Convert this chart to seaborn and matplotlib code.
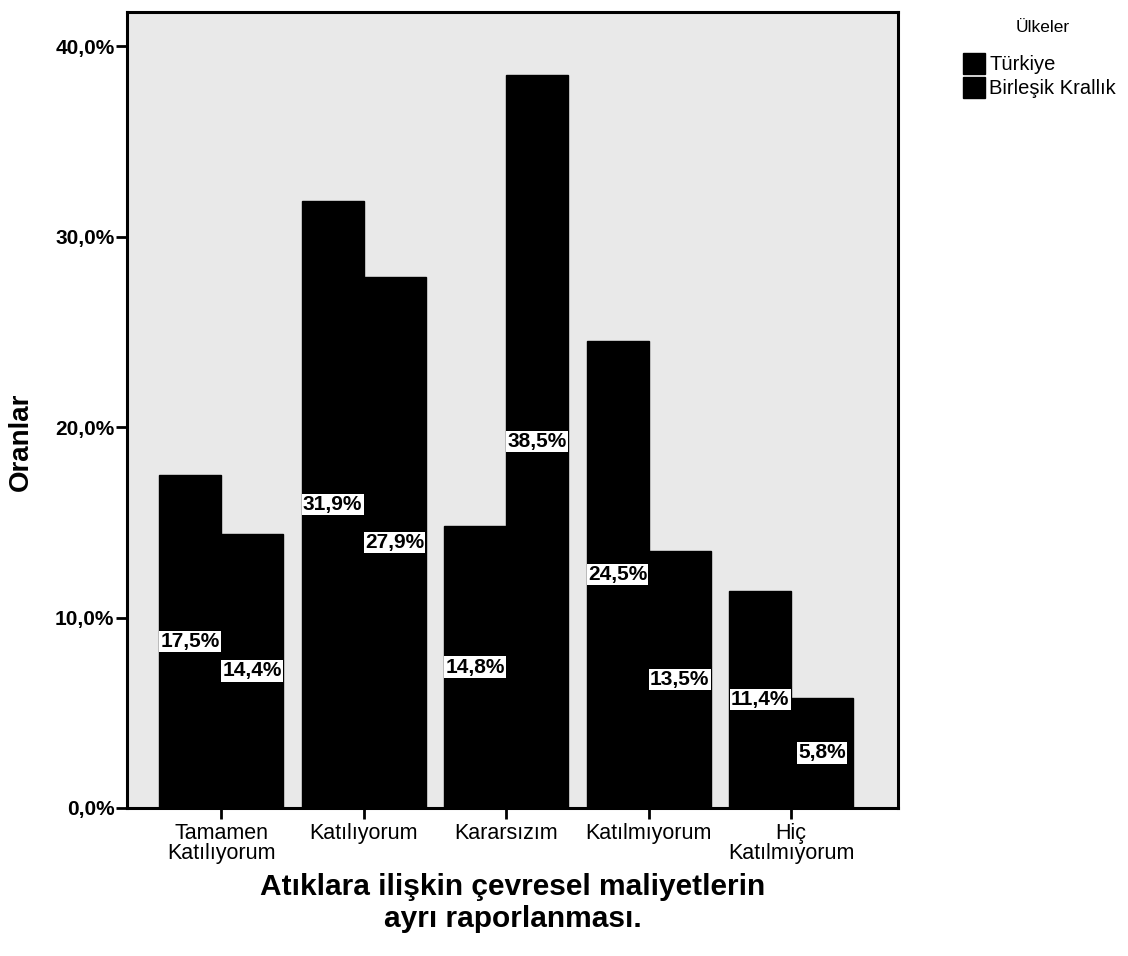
import matplotlib
matplotlib.use("Agg")
import matplotlib.pyplot as plt
import seaborn as sns
import pandas as pd
from matplotlib.ticker import FuncFormatter

categories = ["Tamamen\nKatılıyorum", "Katılıyorum", "Kararsızım", "Katılmıyorum", "Hiç\nKatılmıyorum"]
series_names = ["Türkiye", "Birleşik Krallık"]
turkiye = [17.5, 31.9, 14.8, 24.5, 11.4]
uk = [14.4, 27.9, 38.5, 13.5, 5.8]
yticks = [0, 10, 20, 30, 40]

df = pd.DataFrame({
    "cat": categories * 2,
    "val": turkiye + uk,
    "ulke": [series_names[0]] * len(categories) + [series_names[1]] * len(categories),
})

sns.set_style("white")
plt.rcParams["font.family"] = ["Liberation Sans", "DejaVu Sans"]
plt.rcParams["text.color"] = "black"
plt.rcParams["axes.labelcolor"] = "black"
plt.rcParams["xtick.color"] = "black"
plt.rcParams["ytick.color"] = "black"

W, H = 1128, 956
fig = plt.figure(figsize=(W / 100, H / 100), dpi=100)
ax = fig.add_axes([127 / W, 1 - 808 / H, (898 - 127) / W, (808 - 12) / H])
ax.set_facecolor("#e9e9e9")

sns.barplot(data=df, x="cat", y="val", hue="ulke", order=categories,
            hue_order=series_names, palette=["black", "black"], width=0.87,
            ax=ax, saturation=1, edgecolor="black", legend=True)

for cont, vals in zip(ax.containers, [turkiye, uk]):
    ax.bar_label(cont, labels=[f"{v:.1f}%".replace(".", ",") for v in vals],
                 label_type="center", fontsize=15, fontweight="bold", color="black",
                 bbox=dict(boxstyle="square,pad=0.06", facecolor="white", edgecolor="none"))

ax.set_ylim(0, 41.8)
ax.set_xlim(-0.66, 4.75)
ax.set_yticks(yticks)
ax.yaxis.set_major_formatter(FuncFormatter(lambda v, p: f"{v:.1f}%".replace(".", ",")))
for lbl in ax.get_yticklabels():
    lbl.set_fontweight("bold")
    lbl.set_fontsize(15)
ax.tick_params(axis="y", length=8, width=2, direction="out", left=True, pad=1)
ax.tick_params(axis="x", length=8, width=2, direction="out", bottom=True, labelsize=15.5, pad=3)
for lbl in ax.get_xticklabels():
    lbl.set_linespacing(0.95)
for s in ax.spines.values():
    s.set_linewidth(2.2)
    s.set_color("black")

ax.set_ylabel("Oranlar", fontsize=20, fontweight="bold")
ax.yaxis.set_label_coords((34 - 127) / 771, (808 - 442) / 796)
ax.set_xlabel("Atıklara ilişkin çevresel maliyetlerin\nayrı raporlanması.", fontsize=21.5,
              fontweight="bold", linespacing=1.2)
ax.xaxis.set_label_coords(0.5, (808 - 873) / 796)

handles, labels = ax.get_legend_handles_labels()
ax.legend(handles, labels, loc="upper left", bbox_to_anchor=(963 / W, 1 - 53 / H),
          bbox_transform=fig.transFigure, frameon=False, fontsize=14.5,
          handlelength=1.1, handleheight=1.2, handletextpad=0.2,
          labelspacing=0.15, borderaxespad=0.0, borderpad=0.0)
fig.text(1043 / W, 1 - 28 / H, "Ülkeler", ha="center", va="center", fontsize=12.5)

fig.savefig("out.png", dpi=100)
